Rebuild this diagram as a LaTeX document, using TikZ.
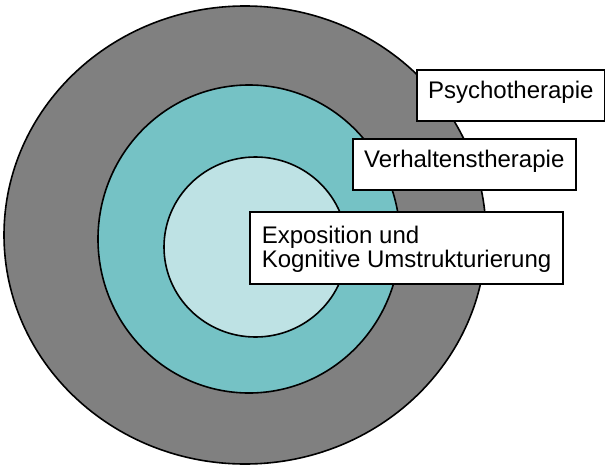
\documentclass[tikz,border=0pt]{standalone}
\usepackage{fontspec}
\setmainfont{Liberation Sans}
\definecolor{ringgray}{RGB}{128,128,128}
\definecolor{ringteal}{RGB}{117,194,197}
\definecolor{ringlight}{RGB}{190,226,228}
\begin{document}
\begin{tikzpicture}[x=1pt,y=-1pt,
  ring/.style={draw=black,line width=1.6pt},
  labelbox/.style={draw=black,fill=white,line width=1.6pt,rectangle,anchor=west,
    inner ysep=0pt,align=left,font=\fontsize{24}{24}\selectfont}]
\fill[white] (0,0) rectangle (605,466);
\useasboundingbox (0,0) rectangle (605,466);
\draw[ring,fill=ringgray] (245,235) ellipse [x radius=241, y radius=229];
\draw[ring,fill=ringteal] (249,239) ellipse [x radius=151, y radius=154];
\draw[ring,fill=ringlight] (255.5,247) ellipse [x radius=91.5, y radius=90];
\node[labelbox,minimum width=188pt,minimum height=51pt,inner xsep=9pt,
  text height=17pt,text depth=12pt] (psy) at (416,95.5) {Psychotherapie};
\node[labelbox,minimum width=223pt,minimum height=51pt,inner xsep=11pt,
  text height=17pt,text depth=11pt] (vt) at (352,164.5) {Verhaltenstherapie};
\node[labelbox,minimum width=313pt,minimum height=72pt,inner xsep=12pt,
  text height=55pt,text depth=17pt] (ex) at (249,248)
  {Exposition und\\Kognitive Umstrukturierung};
\end{tikzpicture}
\end{document}
